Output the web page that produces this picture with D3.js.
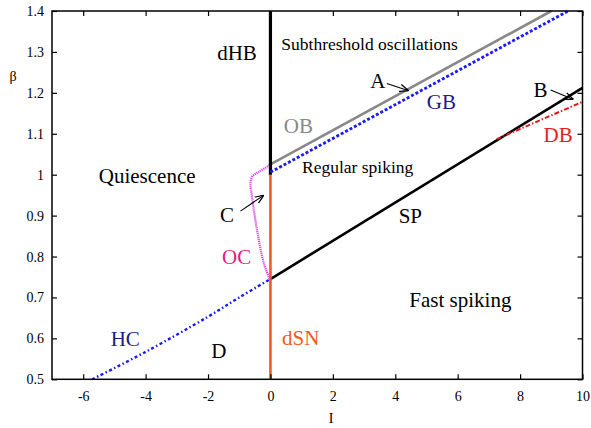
<!DOCTYPE html>
<html><head><meta charset="utf-8">
<script src="https://cdn.jsdelivr.net/npm/d3@7"></script>
<style>
html,body{margin:0;padding:0;background:#fff;}
svg text{font-family:"Liberation Serif","Times New Roman",serif;}
</style></head>
<body><svg id="c" width="591" height="428"></svg>
<script>
// ---- data ----
const xTicks = [-6,-4,-2,0,2,4,6,8,10];
const xTickLabels = ["-6","-4","-2","0","2","4","6","8","10"];
const yTicks = [0.5,0.6,0.7,0.8,0.9,1.0,1.1,1.2,1.3,1.4];
const yTickLabels = ["0.5","0.6","0.7","0.8","0.9","1","1.1","1.2","1.3","1.4"];
const dHB = [[0,1.0],[0,1.4]];
const dSN = [[0,0.5],[0,1.0]];
const OB  = [[0,1.025],[9.0,1.4]];
const GB  = [[0,1.006],[9.54,1.4]];
const SP  = [[0,0.745],[10,1.212]];
const DB  = [[7.25,1.087],[10,1.178]];
const HC  = [[-5.71,0.5],[-4,0.567],[-2,0.653],[-1,0.70],[0,0.745]];
const OC  = [[-0.03,0.746],[-0.21,0.783],[-0.43,0.865],[-0.59,0.946],[-0.64,0.979],[-0.59,0.995],[-0.37,1.007],[-0.03,1.023]];
const labels = [
  {t:"dHB", x:-1.07, y:1.280, big:true, c:"#000", anchor:"middle"},
  {t:"Subthreshold oscillations", x:0.35, y:1.305, big:false, c:"#000"},
  {t:"Quiescence", x:-3.95, y:0.979, big:true, c:"#000", anchor:"middle"},
  {t:"OB", x:0.43, y:1.102, big:true, c:"#888888"},
  {t:"A", x:3.2, y:1.211, big:true, c:"#000"},
  {t:"GB", x:5.01, y:1.160, big:true, c:"#1c1c88"},
  {t:"B", x:8.43, y:1.191, big:true, c:"#000"},
  {t:"DB", x:8.75, y:1.081, big:true, c:"#e81c1c"},
  {t:"Regular spiking", x:1.01, y:1.005, big:false, c:"#000"},
  {t:"SP", x:4.11, y:0.881, big:true, c:"#000"},
  {t:"C", x:-1.62, y:0.885, big:true, c:"#000"},
  {t:"OC", x:-1.55, y:0.782, big:true, c:"#ee1880"},
  {t:"Fast spiking", x:4.45, y:0.677, big:true, c:"#000"},
  {t:"HC", x:-5.12, y:0.581, big:true, c:"#1c1c88"},
  {t:"D", x:-1.90, y:0.551, big:true, c:"#000"},
  {t:"dSN", x:0.37, y:0.584, big:true, c:"#f05a22"}
];
const arrows = [
  [[3.73,1.223],[4.43,1.205]],
  [[8.98,1.207],[9.71,1.184]],
  [[-0.96,0.911],[-0.21,0.950]]
];

// ---- layout ----
const L=52, R=582.5, T=11, B=379.3;
const x = d3.scaleLinear().domain([-7,10]).range([L,R]);
const y = d3.scaleLinear().domain([0.5,1.4]).range([B,T]);
const svg = d3.select("#c");

svg.append("defs").append("marker").attr("id","ah")
  .attr("viewBox","0 0 10 10").attr("refX",10).attr("refY",5)
  .attr("markerWidth",9).attr("markerHeight",9).attr("markerUnits","userSpaceOnUse")
  .attr("orient","auto")
  .append("path").attr("d","M0,1 L10,5 L0,9").attr("fill","none").attr("stroke","#000").attr("stroke-width",1.4);

const line = d3.line().x(d=>x(d[0])).y(d=>y(d[1]));
const curve = d3.line().x(d=>x(d[0])).y(d=>y(d[1])).curve(d3.curveCatmullRom);

function draw(data, color, w, dash, gen){
  svg.append("path").attr("d",(gen||line)(data)).attr("fill","none")
    .attr("stroke",color).attr("stroke-width",w)
    .attr("stroke-dasharray",dash||null);
}

draw(HC, "#1a1aff", 2.4, "3,2.5,1.5,2.5", curve);
draw(OC, "#e040ee", 2.2, "1.2,0.8", curve);
draw(OB, "#888888", 2.6);
draw(SP, "#000", 2.6);
draw(DB, "#e01a1a", 2, "5,2,1.5,2");
draw(dSN, "#f05a22", 2.6);
draw(dHB, "#000", 3.2);
draw(GB, "#1a1aff", 2.8, "3,2");

// arrows
arrows.forEach(a=>{
  svg.append("line").attr("x1",x(a[0][0])).attr("y1",y(a[0][1]))
    .attr("x2",x(a[1][0])).attr("y2",y(a[1][1]))
    .attr("stroke","#000").attr("stroke-width",1.1).attr("marker-end","url(#ah)");
});

// frame & ticks
svg.append("rect").attr("x",L).attr("y",T).attr("width",R-L).attr("height",B-T)
  .attr("fill","none").attr("stroke","#000").attr("stroke-width",1.5);

const gB = svg.append("g").attr("transform",`translate(0,${B})`)
  .call(d3.axisBottom(x).tickValues(xTicks).tickSizeInner(-5).tickSizeOuter(0).tickPadding(11.5)
    .tickFormat((d,i)=>xTickLabels[i]));
const gT = svg.append("g").attr("transform",`translate(0,${T})`)
  .call(d3.axisTop(x).tickValues(xTicks).tickSizeInner(-5).tickSizeOuter(0).tickFormat(""));
const gL = svg.append("g").attr("transform",`translate(${L},0)`)
  .call(d3.axisLeft(y).tickValues(yTicks).tickSizeInner(-5).tickSizeOuter(0).tickPadding(8)
    .tickFormat((d,i)=>yTickLabels[i]));
const gR = svg.append("g").attr("transform",`translate(${R},0)`)
  .call(d3.axisRight(y).tickValues(yTicks).tickSizeInner(-5).tickSizeOuter(0).tickFormat(""));
[gB,gT,gL,gR].forEach(g=>{
  g.attr("font-family",null);
  g.select(".domain").remove();
  g.selectAll(".tick line").attr("stroke","#000").attr("stroke-width",1.2);
  g.selectAll("text").style("font-family","'Liberation Serif', serif").attr("font-size",14).attr("fill","#000");
});

// axis titles
svg.append("text").attr("x",331).attr("y",423).attr("text-anchor","middle")
  .attr("font-size",14).text("I");
svg.append("text").attr("x",13).attr("y",81).attr("text-anchor","middle")
  .attr("font-size",14).text("β");

// region labels
labels.forEach(l=>{
  svg.append("text").attr("x",x(l.x)).attr("y",y(l.y))
    .attr("text-anchor",l.anchor||"start")
    .attr("font-size",l.big?21:17.5).attr("fill",l.c).text(l.t);
});
</script></body></html>
